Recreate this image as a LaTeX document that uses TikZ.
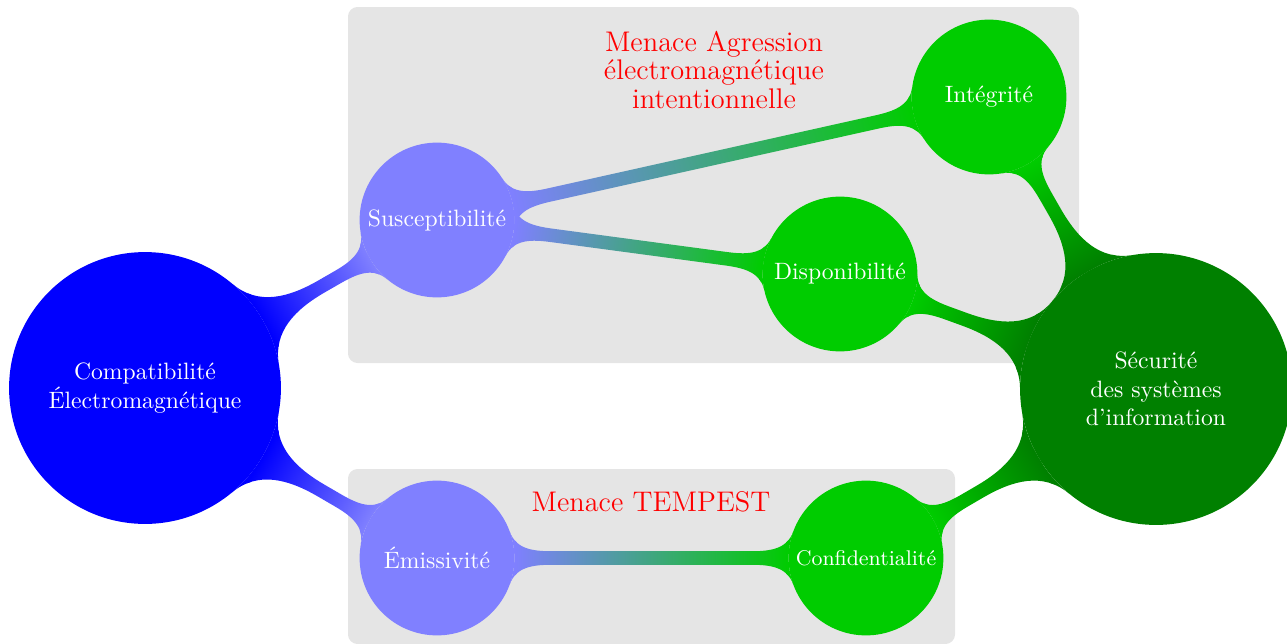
\documentclass[tikz,border=0pt]{standalone}
\usetikzlibrary{mindmap}
\pgfdeclarelayer{bg}
\pgfdeclarelayer{conn}
\pgfsetlayers{bg,main,conn}
\colorlet{cA}{blue}
\colorlet{cB}{blue!50}
\colorlet{cC}{green!80!black}
\colorlet{cD}{green!50!black}
\tikzset{
  bigc/.style={circle, fill=#1, draw=#1, line width=1pt, text=white, minimum size=4.04cm-1pt, inner sep=0pt, align=center, font=\normalsize},
  smallc/.style={circle, fill=#1, draw=#1, line width=1pt, text=white, minimum size=2.3cm-1pt, inner sep=0pt, align=center, font=\normalsize},
  zone/.style={fill=gray!20, rounded corners=4pt},
  menace/.style={text=red, font=\large, align=center},
  bar/.style={line width=2.1mm}
}
\begin{document}
\begin{tikzpicture}[x=0.014859cm, y=-0.014859cm]
\useasboundingbox (0,0) rectangle (1287,644);
% nodes
\node[bigc=cA] (comp) at (145,388) {Compatibilité\\Électromagnétique};
\node[smallc=cB] (susc) at (437,220) {Susceptibilité};
\node[smallc=cB] (emis) at (437,558) {Émissivité};
\node[smallc=cC] (inte) at (989,97) {Intégrité};
\node[smallc=cC] (disp) at (840,274) {Disponibilité};
\node[smallc=cC, font=\small] (conf) at (866,558) {Confidentialité};
\node[bigc=cD] (secu) at (1156,389) {Sécurité\\des systèmes\\d’information};
\node[menace] (m1) at (714,70) {Menace Agression\\[-2pt]électromagnétique\\[-2pt]intentionnelle};
\node[menace] (m2) at (651,502) {Menace TEMPEST};
\begin{pgfonlayer}{bg}
\fill[zone] (348,7) rectangle (1079,363);
\fill[zone] (348,469) rectangle (955,644);
\end{pgfonlayer}
\begin{pgfonlayer}{conn}
\path[bar] (comp) to[circle connection bar switch color=from (cA) to (cB)] (susc);
\path[bar] (comp) to[circle connection bar switch color=from (cA) to (cB)] (emis);
\path[bar] (susc) to[circle connection bar switch color=from (cB) to (cC)] (inte);
\path[bar] (susc) to[circle connection bar switch color=from (cB) to (cC)] (disp);
\path[bar] (emis) to[circle connection bar switch color=from (cB) to (cC)] (conf);
\path[bar] (inte) to[circle connection bar switch color=from (cC) to (cD)] (secu);
\path[bar] (disp) to[circle connection bar switch color=from (cC) to (cD)] (secu);
\path[bar] (conf) to[circle connection bar switch color=from (cC) to (cD)] (secu);
\end{pgfonlayer}
\end{tikzpicture}
\end{document}
